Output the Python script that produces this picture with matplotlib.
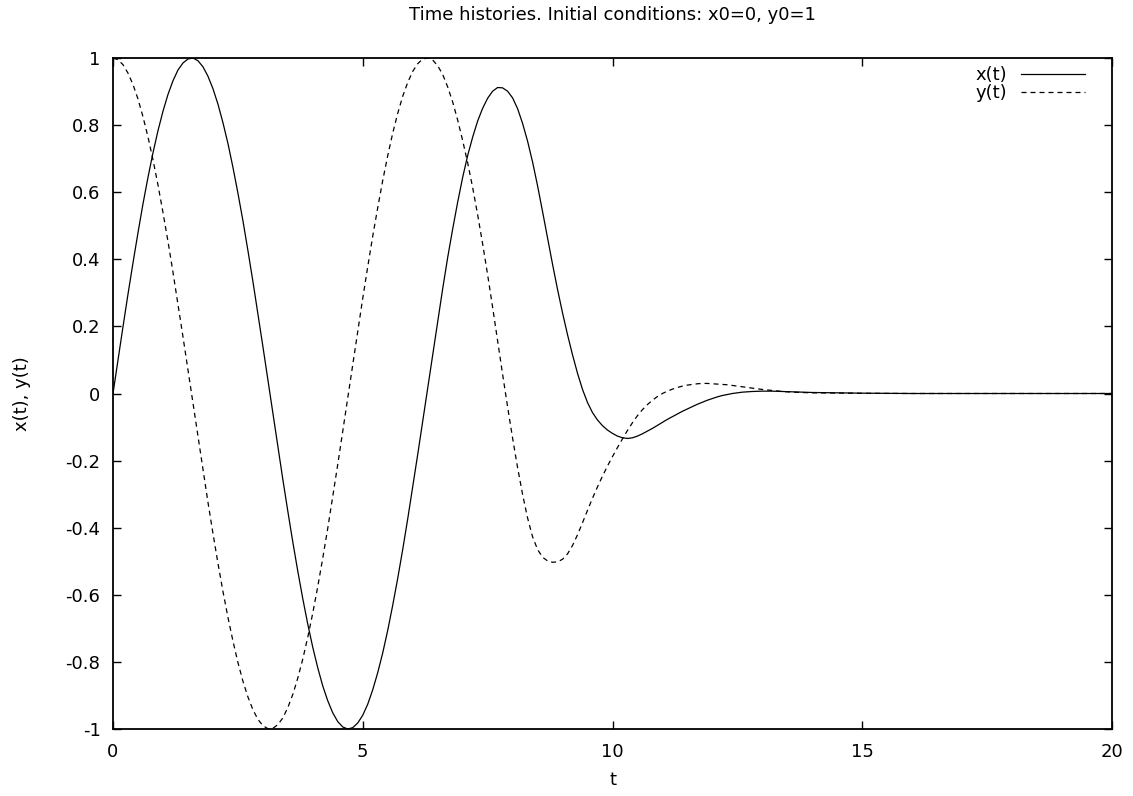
import matplotlib
matplotlib.use("Agg")
import matplotlib.pyplot as plt

# sample times: 0.0 .. 14.0 every 0.1, then a sparse tail
t = [round(0.1 * i, 1) for i in range(141)] + [15.0, 16.0, 17.0, 18.0, 19.0, 20.0]

x_vals = [
    # 0.0 - 0.9
    0.000, 0.100, 0.199, 0.296, 0.389, 0.479, 0.565, 0.644, 0.717, 0.783,
    # 1.0 - 1.9
    0.841, 0.891, 0.932, 0.964, 0.985, 0.997, 1.000, 0.992, 0.974, 0.946,
    # 2.0 - 2.9
    0.909, 0.863, 0.808, 0.746, 0.675, 0.598, 0.516, 0.427, 0.335, 0.239,
    # 3.0 - 3.9
    0.141, 0.042, -0.058, -0.158, -0.256, -0.351, -0.443, -0.530, -0.612, -0.688,
    # 4.0 - 4.9
    -0.757, -0.818, -0.872, -0.916, -0.952, -0.978, -0.994, -1.000, -0.996, -0.982,
    # 5.0 - 5.9
    -0.959, -0.926, -0.883, -0.832, -0.773, -0.706, -0.631, -0.551, -0.465, -0.374,
    # 6.0 - 6.9
    -0.279, -0.182, -0.083, 0.017, 0.117, 0.215, 0.312, 0.405, 0.490, 0.570,
    # 7.0 - 7.9
    0.644, 0.709, 0.764, 0.812, 0.850, 0.880, 0.901, 0.912, 0.911, 0.901,
    # 8.0 - 8.9
    0.881, 0.849, 0.805, 0.752, 0.690, 0.619, 0.542, 0.463, 0.385, 0.310,
    # 9.0 - 9.9
    0.240, 0.175, 0.115, 0.060, 0.012, -0.027, -0.057, -0.079, -0.096, -0.109,
    # 10.0 - 10.9
    -0.119, -0.127, -0.132, -0.134, -0.132, -0.127, -0.120, -0.112, -0.104, -0.095,
    # 11.0 - 11.9
    -0.086, -0.077, -0.069, -0.061, -0.053, -0.046, -0.039, -0.032, -0.026, -0.020,
    # 12.0 - 12.9
    -0.015, -0.010, -0.006, -0.003, 0.000, 0.002, 0.004, 0.005, 0.006, 0.0065,
    # 13.0 - 13.9
    0.007, 0.007, 0.007, 0.0065, 0.006, 0.0055, 0.005, 0.0045, 0.004, 0.0035,
    # 14.0
    0.003,
    # 15 - 20
    0.001, 0.000, 0.000, 0.000, 0.000, 0.000]

y_vals = [
    # 0.0 - 0.9
    1.000, 0.995, 0.980, 0.955, 0.921, 0.878, 0.825, 0.765, 0.697, 0.622,
    # 1.0 - 1.9
    0.540, 0.454, 0.362, 0.267, 0.170, 0.071, -0.029, -0.129, -0.227, -0.323,
    # 2.0 - 2.9
    -0.416, -0.505, -0.589, -0.666, -0.737, -0.801, -0.857, -0.904, -0.942, -0.971,
    # 3.0 - 3.9
    -0.990, -0.999, -0.998, -0.987, -0.967, -0.936, -0.897, -0.848, -0.791, -0.726,
    # 4.0 - 4.9
    -0.654, -0.575, -0.490, -0.401, -0.307, -0.211, -0.112, -0.012, 0.087, 0.187,
    # 5.0 - 5.9
    0.284, 0.378, 0.469, 0.554, 0.635, 0.709, 0.776, 0.835, 0.886, 0.927,
    # 6.0 - 6.9
    0.960, 0.983, 0.997, 1.000, 0.994, 0.977, 0.951, 0.914, 0.869, 0.815,
    # 7.0 - 7.9
    0.754, 0.688, 0.614, 0.533, 0.446, 0.354, 0.257, 0.157, 0.057, -0.040,
    # 8.0 - 8.9
    -0.133, -0.221, -0.301, -0.371, -0.427, -0.465, -0.488, -0.499, -0.503, -0.502,
    # 9.0 - 9.9
    -0.494, -0.478, -0.453, -0.421, -0.385, -0.348, -0.312, -0.278, -0.246, -0.216,
    # 10.0 - 10.9
    -0.188, -0.161, -0.135, -0.110, -0.087, -0.066, -0.048, -0.033, -0.020, -0.009,
    # 11.0 - 11.9
    0.000, 0.007, 0.013, 0.018, 0.022, 0.025, 0.027, 0.029, 0.030, 0.030,
    # 12.0 - 12.9
    0.029, 0.028, 0.027, 0.026, 0.024, 0.022, 0.020, 0.018, 0.016, 0.014,
    # 13.0 - 13.9
    0.012, 0.0105, 0.009, 0.0075, 0.006, 0.005, 0.004, 0.0035, 0.003, 0.0025,
    # 14.0
    0.002,
    # 15 - 20
    0.0005, 0.000, 0.000, 0.000, 0.000, 0.000]

xticks = [0, 5, 10, 15, 20]
yticks = [-1, -0.8, -0.6, -0.4, -0.2, 0, 0.2, 0.4, 0.6, 0.8, 1]
ytick_labels = ["-1", "-0.8", "-0.6", "-0.4", "-0.2", "0", "0.2", "0.4", "0.6", "0.8", "1"]

plt.rcParams['font.family'] = ['DejaVu Sans']
fs = 13

fig = plt.figure(figsize=(11.33, 7.96), dpi=100)
ax = fig.add_axes([113/1133, 1 - 729/796, 999/1133, 671/796])

lw = 0.9
ax.plot(t, x_vals, color='black', lw=lw, label='x(t)')
ax.plot(t, y_vals, color='black', lw=lw, dashes=(4.0, 3.2), label='y(t)')

ax.set_xlim(0, 20)
ax.set_ylim(-1, 1)
ax.set_xticks(xticks)
ax.set_xticklabels([str(v) for v in xticks])
ax.set_yticks(yticks)
ax.set_yticklabels(ytick_labels)
ax.tick_params(direction='in', top=True, right=True, length=6, width=1.0,
               labelsize=fs, pad=9)
ax.tick_params(axis='x', pad=10)
for s in ax.spines.values():
    s.set_linewidth(1.3)

ax.set_xlabel('t', fontsize=fs, labelpad=7)
ax.set_ylabel('x(t), y(t)', fontsize=fs, labelpad=25)
ax.set_title('Time histories. Initial conditions: x0=0, y0=1', fontsize=fs, pad=27)

ax.legend(loc='upper right', bbox_to_anchor=(0.978, 0.996), markerfirst=False,
          frameon=False, fontsize=fs, handlelength=3.5, handletextpad=0.8,
          labelspacing=0.0, borderpad=0.3, borderaxespad=0.0)

fig.savefig('out.png', dpi=100)
